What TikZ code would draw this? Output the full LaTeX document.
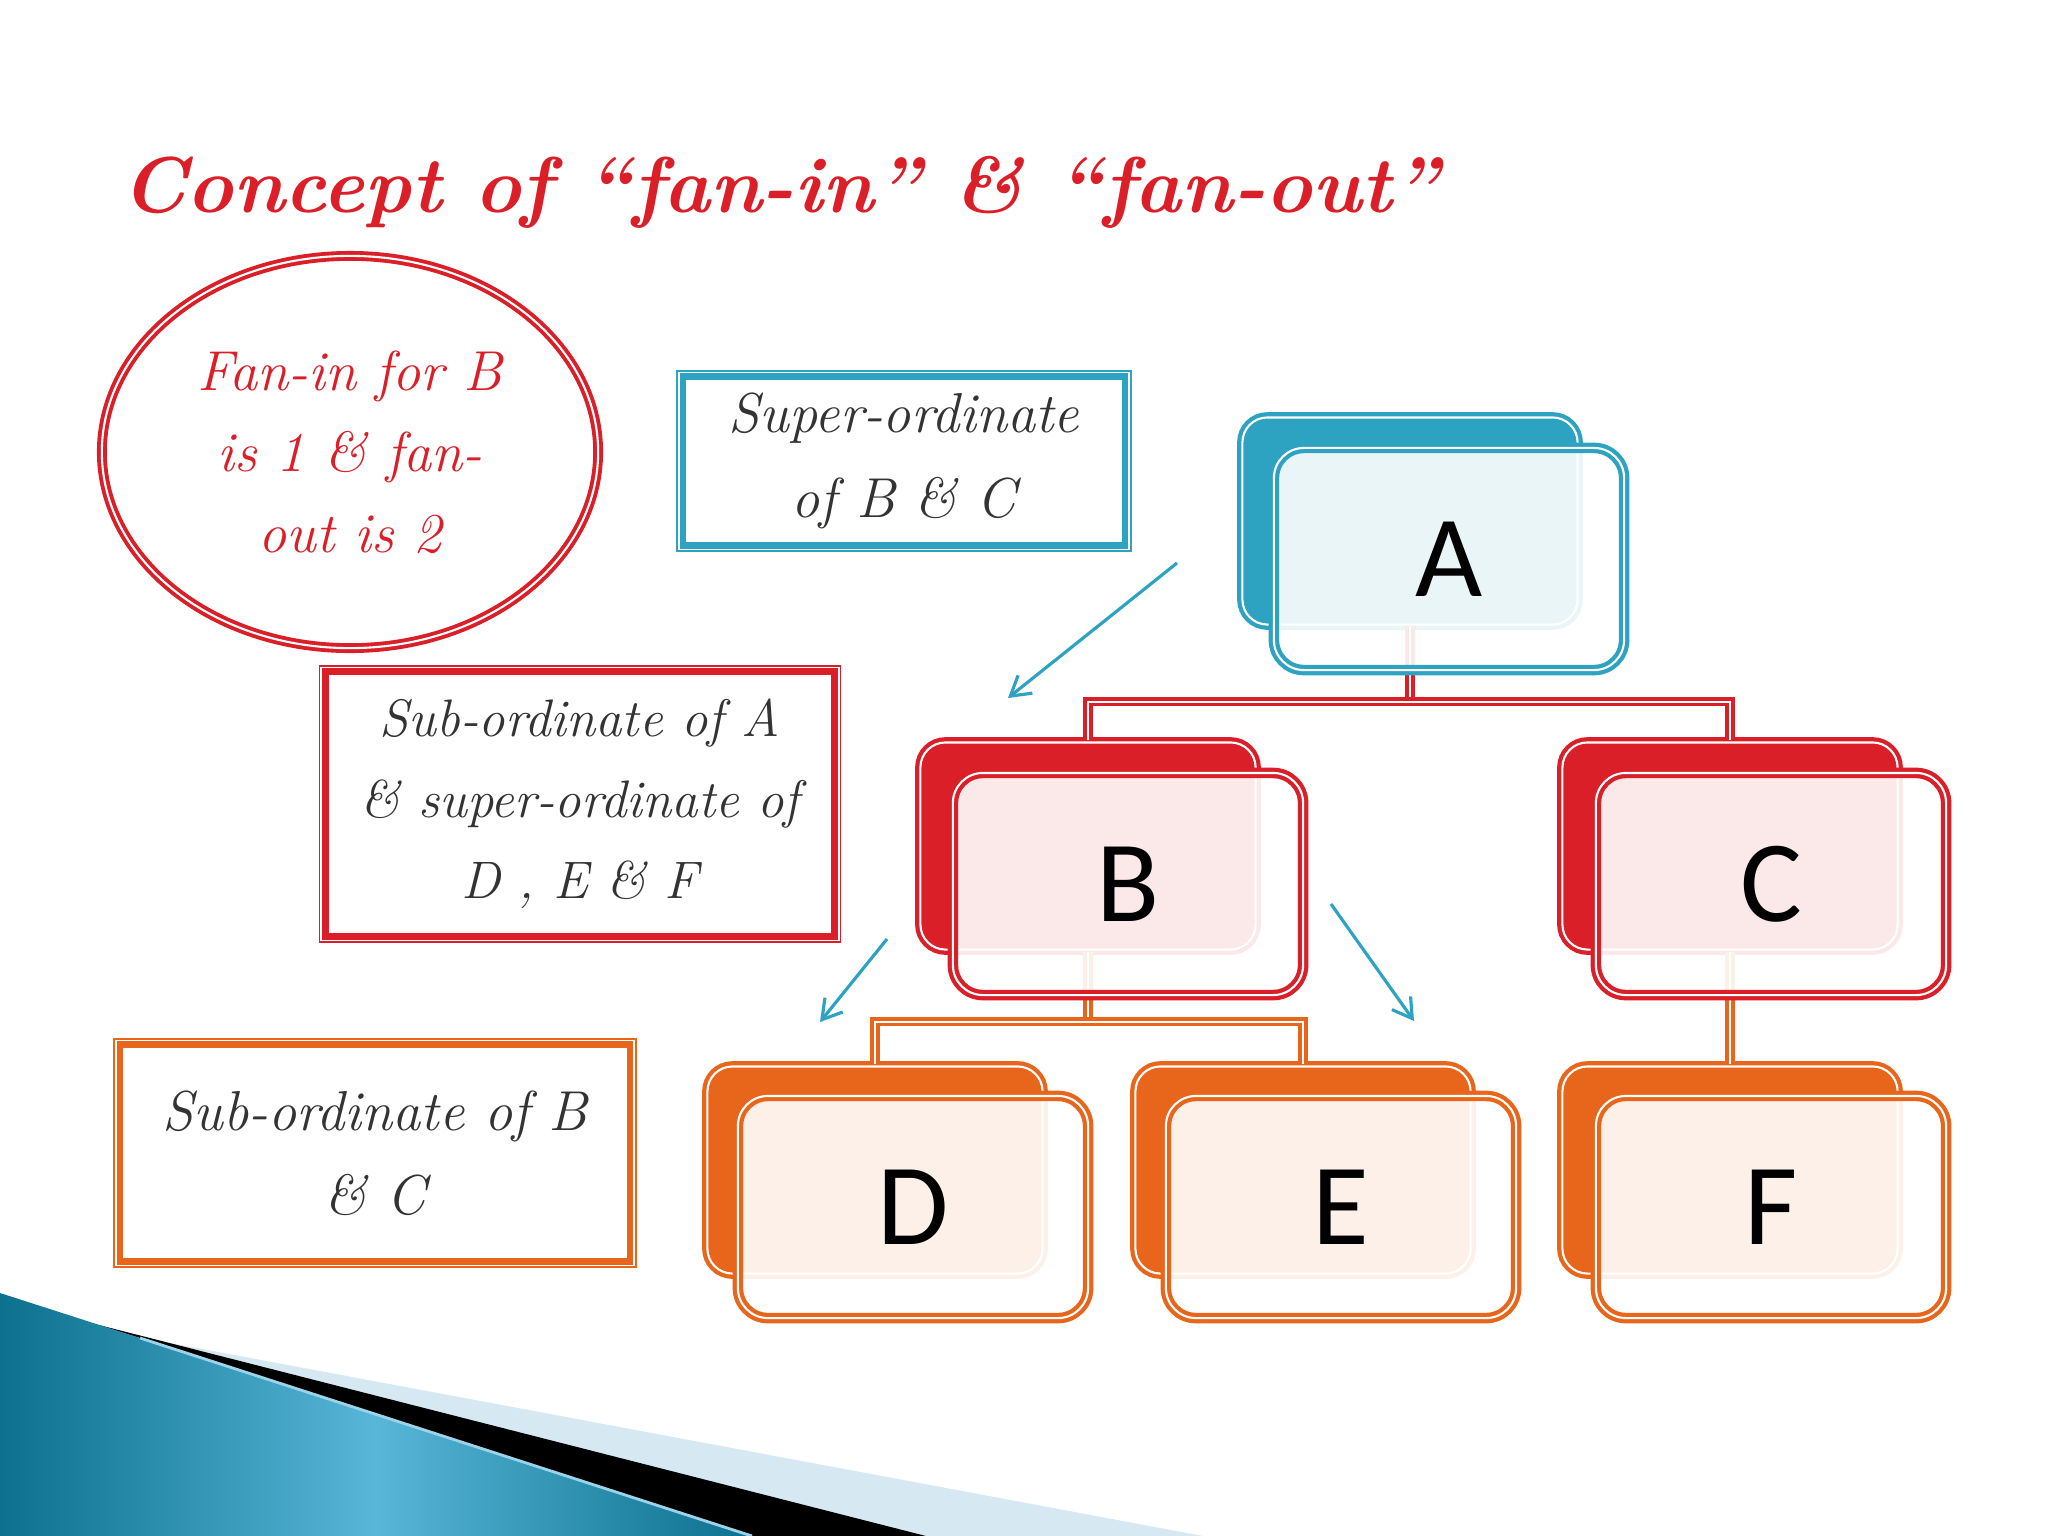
\documentclass[tikz,border=0pt]{standalone}
\usepackage{fontspec}
\newfontfamily\letterfont{Carlito}
\usetikzlibrary{arrows.meta,shapes.geometric}

\definecolor{kblue}{RGB}{46,163,193}
\definecolor{kred}{RGB}{218,31,40}
\definecolor{korange}{RGB}{232,102,28}
\definecolor{kink}{RGB}{51,51,51}
\definecolor{kdeep}{RGB}{12,112,142}
\definecolor{klight}{RGB}{88,182,216}
\definecolor{kpale}{RGB}{214,232,241}

\tikzset{
  backbox/.style={rectangle, rounded corners=0.25cm, draw=#1, fill=#1,
    double=white, double distance=0.6pt, line width=1.2pt,
    minimum width=3.35cm, minimum height=2.07cm, inner sep=0pt},
  frontbox/.style={rectangle, rounded corners=0.3cm, draw=#1, fill=white,
    fill opacity=0.9, text opacity=1, double=white, double distance=0.6pt,
    line width=1.2pt, minimum width=3.5cm, minimum height=2.22cm,
    inner sep=0pt, font=\letterfont\fontsize{33}{40}\selectfont},
  notebox/.style={rectangle, draw=#1, line width=0.1cm, fill=white,
    align=center, inner sep=0pt, text=kink,
    font=\itshape\fontsize{16}{24}\selectfont},
  inset/.style={white, line width=0.5pt},
  redlink/.style={draw=kred, double=white, double distance=0.5pt, line width=1.1pt},
  orangelink/.style={draw=korange, double=white, double distance=0.5pt, line width=1.1pt},
  pointer/.style={draw=kblue, line width=0.9pt, -{Straight Barb[length=5.4pt,width=6.5pt]}},
}

\begin{document}
\begin{tikzpicture}[x=0.01cm, y=-0.01cm]
  \useasboundingbox (0,0) rectangle (2048,1536);
  \fill[white] (0,0) rectangle (2048,1536);

  % corner decoration
  \fill[kpale] (138,1337) -- (1203,1536) -- (926,1536) -- cycle;
  \fill[black] (95,1324) -- (926,1536) -- (752,1536) -- (140,1338) -- cycle;
  \shade[left color=kdeep, right color=kdeep, middle color=klight]
    (0,1293) -- (140,1338) -- (752,1536) -- (0,1536) -- cycle;
  \draw[klight!60!white, line width=0.8pt] (140,1338) -- (752,1536);

  % title
  \node[text=kred, font=\bfseries\itshape\fontsize{22.5}{28}\selectfont] (title) at (780,192)
    {Concept of “fan-in” \& “fan-out”};

  % back boxes
  \node[backbox=kblue] (A) at (1410,521) {};
  \node[backbox=kred] (B) at (1088,846) {};
  \node[backbox=kred] (C) at (1730,846) {};
  \node[backbox=korange] (D) at (875,1170) {};
  \node[backbox=korange] (E) at (1303,1170) {};
  \node[backbox=korange] (F) at (1730,1170) {};

  % tree lines
  \draw[redlink] (A.south) -- ++(0,75) coordinate (Abus);
  \draw[redlink] (B.north) |- (Abus) -| (C.north);
  \draw[orangelink] (B.south) -- ++(0,70) coordinate (Bbus);
  \draw[orangelink] (D.north) |- (Bbus) -| (E.north);
  \draw[orangelink] (C.south) -- (F.north);

  % front boxes
  \node[frontbox=kblue] (fA) at (1449,559) {A};
  \node[frontbox=kred] (fB) at (1128,884) {B};
  \node[frontbox=kred] (fC) at (1771,884) {C};
  \node[frontbox=korange] (fD) at (913,1207) {D};
  \node[frontbox=korange] (fE) at (1341,1207) {E};
  \node[frontbox=korange] (fF) at (1771,1207) {F};

  % notes
  \node[ellipse, draw=kred, double=white, double distance=0.6pt, line width=1.1pt,
    minimum width=4.96cm, minimum height=3.92cm, inner sep=0pt, align=center,
    text=kred, font=\itshape\fontsize{16}{23}\selectfont] (fan) at (350,452)
    {Fan-in for B\\is 1 \& fan-\\out is 2};

  \node[notebox=kblue, minimum width=4.45cm, minimum height=1.72cm] (sup) at (904,461)
    {Super-ordinate\\of B \& C};
  \draw[inset] ([shift={(2.5,2.5)}]sup.north west) rectangle ([shift={(-2.5,-2.5)}]sup.south east);

  \node[notebox=kred, minimum width=5.12cm, minimum height=2.68cm,
    font=\itshape\fontsize{15}{23}\selectfont] (subA) at (580,804)
    {Sub-ordinate of A\\\& super-ordinate of\\D , E \& F};
  \draw[inset] ([shift={(2.5,2.5)}]subA.north west) rectangle ([shift={(-2.5,-2.5)}]subA.south east);

  \node[notebox=korange, minimum width=5.13cm, minimum height=2.2cm] (subB) at (375,1153)
    {Sub-ordinate of B\\\& C};
  \draw[inset] ([shift={(2.5,2.5)}]subB.north west) rectangle ([shift={(-2.5,-2.5)}]subB.south east);

  % pointers
  \coordinate (p1) at (1177,563);  \coordinate (q1) at (1008,698);
  \coordinate (p2) at (887,939);   \coordinate (q2) at (820,1022);
  \coordinate (p3) at (1331,904);  \coordinate (q3) at (1414,1021);
  \draw[pointer] (p1) -- (q1);
  \draw[pointer] (p2) -- (q2);
  \draw[pointer] (p3) -- (q3);
\end{tikzpicture}
\end{document}
